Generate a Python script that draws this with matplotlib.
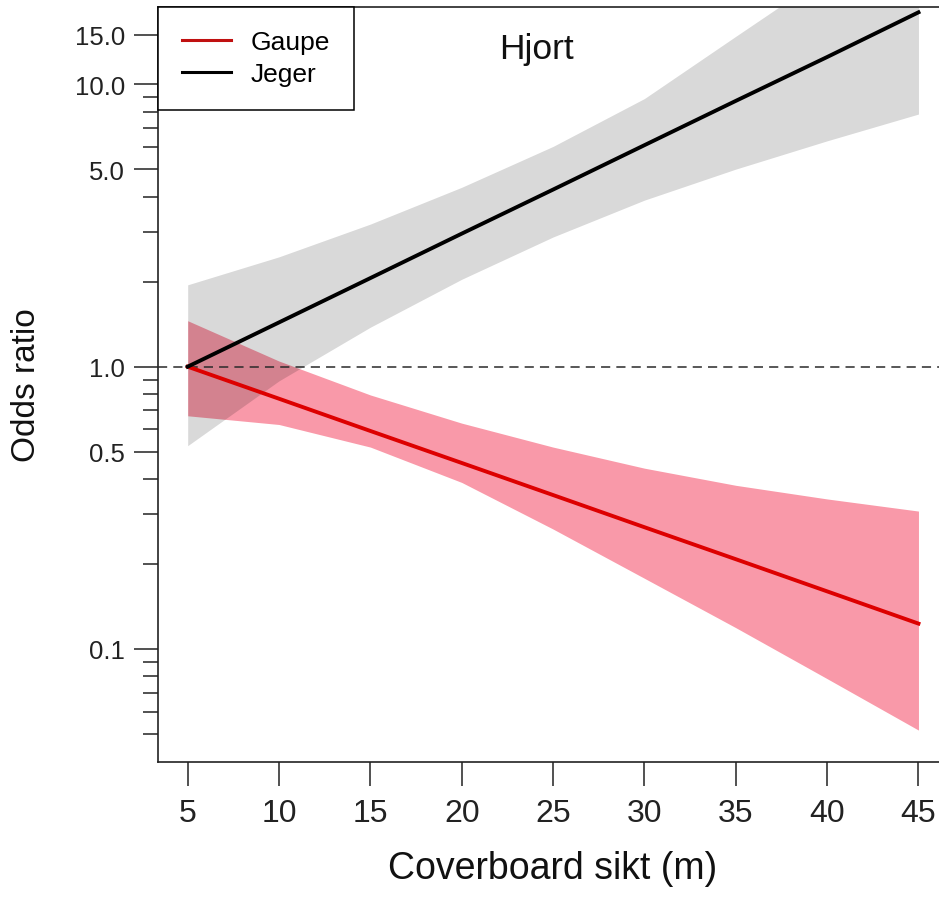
import matplotlib
matplotlib.use("Agg")
import matplotlib.pyplot as plt
from matplotlib.ticker import FixedLocator, NullFormatter

plt.rcParams['font.family'] = ['Liberation Sans', 'DejaVu Sans']

# ---- data ----
coverboard = [5, 10, 15, 20, 25, 30, 35, 40, 45]

gaupe_or    = [1.000, 0.770, 0.592, 0.456, 0.351, 0.270, 0.208, 0.160, 0.123]
gaupe_upper = [1.455, 1.047, 0.794, 0.631, 0.519, 0.437, 0.380, 0.340, 0.308]
gaupe_lower = [0.670, 0.624, 0.519, 0.389, 0.266, 0.178, 0.119, 0.0785, 0.0516]

jeger_or    = [1.000, 1.435, 2.06, 2.96, 4.24, 6.09, 8.74, 12.5, 18.0]
jeger_upper = [1.95, 2.45, 3.20, 4.32, 6.03, 8.91, 14.8, 24.5, 41.7]
jeger_lower = [0.525, 0.891, 1.38, 2.04, 2.88, 3.89, 5.01, 6.31, 7.85]

series_names = ["Gaupe", "Jeger"]
x_ticks = [5, 10, 15, 20, 25, 30, 35, 40, 45]
y_major = [0.1, 0.5, 1.0, 5.0, 10.0, 15.0]
y_major_labels = ["0.1", "0.5", "1.0", "5.0", "10.0", "15.0"]
y_minor = [0.05, 0.06, 0.07, 0.08, 0.09, 0.2, 0.3, 0.4,
           0.6, 0.7, 0.8, 0.9, 2, 3, 4, 6, 7, 8, 9]

W, H = 939, 912
fig = plt.figure(figsize=(W / 100, H / 100), dpi=100)
left_px, right_px, top_px, bot_px = 158.45, 947.7, 7.7, 762.9
ax = fig.add_axes([left_px / W, 1 - bot_px / H, (right_px - left_px) / W, (bot_px - top_px) / H])

ax.set_yscale('log')
ax.set_xlim(3.4, 46.6)
ax.set_ylim(10 ** -1.400, 10 ** 1.2752)

# bands
ax.fill_between(coverboard, gaupe_lower, gaupe_upper, color=(242/255, 0, 40/255), alpha=0.4,
                linewidth=0, zorder=1)
ax.fill_between(coverboard, jeger_lower, jeger_upper, color='black', alpha=0.15,
                linewidth=0, zorder=2)

ax.axhline(1.0, color='#2a2a2a', linewidth=1.1, dashes=(6, 4), zorder=3)

ax.plot(coverboard, gaupe_or, color='#DD0000', linewidth=2.8, label=series_names[0], zorder=4)
ax.plot(coverboard, jeger_or, color='black', linewidth=2.8, label=series_names[1], zorder=5)

# axes styling
for s in ['left', 'bottom', 'top', 'right']:
    ax.spines[s].set_linewidth(1.2)
    ax.spines[s].set_color('#222222')

ax.xaxis.set_major_locator(FixedLocator(x_ticks))
ax.set_xticklabels([str(v) for v in x_ticks])
ax.yaxis.set_major_locator(FixedLocator(y_major))
ax.set_yticklabels(y_major_labels)
ax.yaxis.set_minor_locator(FixedLocator(y_minor))
ax.yaxis.set_minor_formatter(NullFormatter())
ax.xaxis.set_minor_locator(FixedLocator([]))

ax.tick_params(axis='x', which='major', length=17, width=1.1, pad=9, labelsize=23, colors='#222222')
ax.tick_params(axis='y', which='major', length=17, width=1.1, pad=7, labelsize=18.5, colors='#222222')
ax.tick_params(axis='y', which='minor', length=10.8, width=1.1, colors='#222222')

ax.set_xlabel("Coverboard sikt (m)", fontsize=27, color='#111111')
ax.set_ylabel("Odds ratio", fontsize=24, color='#111111')
ax.xaxis.set_label_coords(0.5, (bot_px - 869) / (bot_px - top_px))
ax.xaxis.label.set_va('center')
ax.yaxis.set_label_coords((27 - left_px) / (right_px - left_px), 0.5)
ax.yaxis.label.set_va('center')

fig.text(537 / W, 1 - 49 / H, "Hjort", ha='center', va='center', fontsize=25.5, color='#111111')

leg = ax.legend(loc='upper left', bbox_to_anchor=(0, 1), borderaxespad=0, fontsize=19,
                frameon=True, fancybox=False, edgecolor='black', framealpha=1,
                handlelength=1.85, handletextpad=0.75, borderpad=0.9, labelspacing=0.3)
leg.get_frame().set_linewidth(1.1)
for ln in leg.get_lines():
    ln.set_linewidth(2.2)
leg.get_lines()[0].set_color('#C01010')

fig.savefig("out.png", dpi=100)
